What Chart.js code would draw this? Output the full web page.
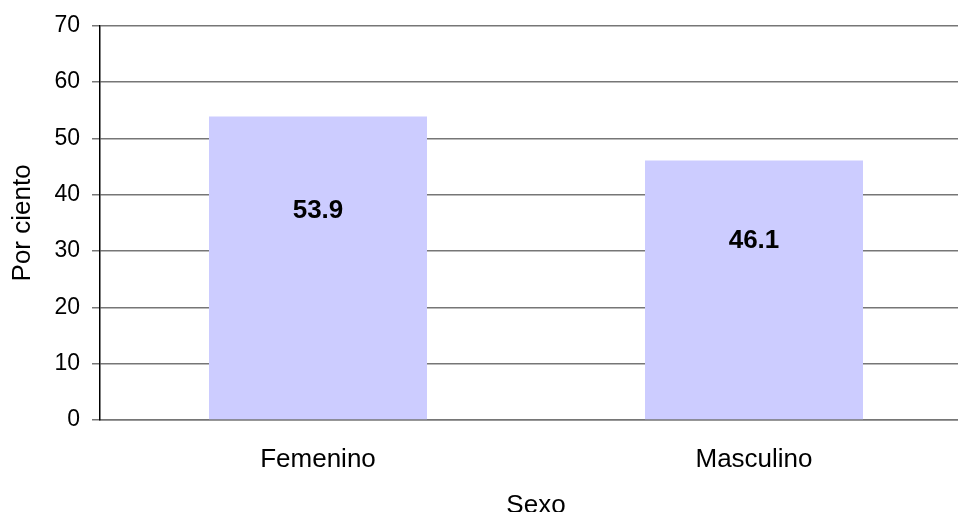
<!DOCTYPE html>
<html lang="es">

<head>
  <meta charset="UTF-8">
  <title>Por ciento por sexo</title>
  <script src="https://cdn.jsdelivr.net/npm/chart.js"></script>
  <style>
    html, body { margin: 0; padding: 0; background: #fff; overflow: hidden; }
    .chart-box { width: 972px; height: 512px; }
  </style>
</head>

<body>
  <div class="chart-box">
    <canvas id="barChart"></canvas>
  </div>

  <script>
    // data
    const categories = ['Femenino', 'Masculino'];
    const values = [53.9, 46.1];
    const yTicks = [0, 10, 20, 30, 40, 50, 60, 70];

    const FONT = "'Liberation Sans', Arial, sans-serif";
    const GRID = '#767676';

    // value labels drawn inside each bar, about two thirds up
    const barLabels = {
      id: 'barLabels',
      afterDatasetsDraw(chart) {
        const ctx = chart.ctx;
        const yScale = chart.scales.y;
        const meta = chart.getDatasetMeta(0);
        ctx.save();
        ctx.font = 'bold 26px ' + FONT;
        ctx.fillStyle = '#000';
        ctx.textAlign = 'center';
        ctx.textBaseline = 'middle';
        meta.data.forEach((bar, i) => {
          const y = yScale.getPixelForValue(values[i] * 0.69);
          ctx.fillText(values[i].toFixed(1), bar.x, y);
        });
        ctx.restore();
      }
    };

    const ctx = document.getElementById('barChart').getContext('2d');
    new Chart(ctx, {
      type: 'bar',
      data: {
        labels: categories,
        datasets: [{
          data: values,
          backgroundColor: '#CCCCFF',
          borderWidth: 0,
          barPercentage: 0.5,
          categoryPercentage: 1
        }]
      },
      options: {
        responsive: true,
        maintainAspectRatio: false,
        animation: false,
        layout: { padding: { top: 24, left: 0, right: 0, bottom: 0 } },
        plugins: {
          legend: { display: false },
          tooltip: { enabled: false }
        },
        scales: {
          x: {
            grid: { display: false, drawTicks: false },
            border: { color: GRID, width: 1.5 },
            ticks: { color: '#000', font: { family: FONT, size: 26 }, padding: 24 },
            title: {
              display: true, text: 'Sexo', color: '#000',
              font: { family: FONT, size: 26, lineHeight: 1 }, padding: { top: 0, bottom: -7 }
            },
            afterFit(scale) { scale.height = 92; }
          },
          y: {
            min: 0,
            max: 70,
            afterBuildTicks(scale) { scale.ticks = yTicks.map(v => ({ value: v })); },
            grid: { color: GRID, tickColor: GRID, tickLength: 8, lineWidth: 1.5 },
            border: { color: '#000', width: 1.5 },
            ticks: { color: '#000', font: { family: FONT, size: 23 }, padding: 12 },
            title: {
              display: true, text: 'Por ciento', color: '#000',
              font: { family: FONT, size: 26, lineHeight: 1 }, padding: { top: 10, bottom: 0 }
            },
            afterFit(scale) { scale.width = 100; }
          }
        }
      },
      plugins: [barLabels]
    });
  </script>
</body>

</html>
